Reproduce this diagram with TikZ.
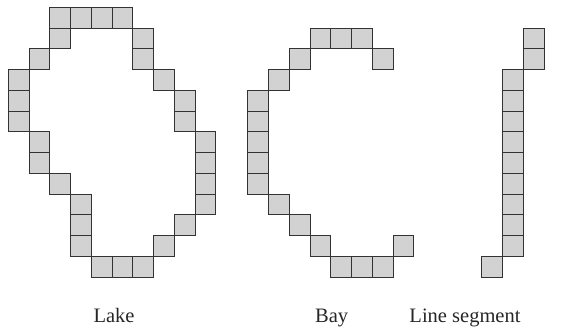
\documentclass[tikz,border=0pt]{standalone}
\usepackage{fontspec}
\setmainfont{Liberation Serif}
\begin{document}
\begin{tikzpicture}[x=1pt,y=-1pt,
  cell/.style={draw=black!80,fill=gray!35,line width=0.8pt,minimum size=20.75pt,inner sep=0pt,outer sep=0pt,anchor=north west},
  lbl/.style={anchor=base,inner sep=0pt,font=\fontsize{20.5}{24}\selectfont,text=black!85}]
\useasboundingbox (0,0) rectangle (571,331);
\def\s{20.75}
% Lake
\foreach \c/\r in {2/0,3/0,4/0,5/0, 2/1,6/1, 1/2,6/2, 0/3,7/3, 0/4,8/4, 0/5,8/5, 1/6,9/6, 1/7,9/7, 2/8,9/8, 3/9,9/9, 3/10,8/10, 3/11,7/11, 4/12,5/12,6/12}
  \node[cell] (lake-\c-\r) at ({8.3+\c*\s},{7.3+\r*\s}) {};
% Bay
\foreach \c/\r in {3/1,4/1,5/1, 2/2,6/2, 1/3, 0/4,0/5,0/6,0/7,0/8, 1/9, 2/10, 3/11,7/11, 4/12,5/12,6/12}
  \node[cell] (bay-\c-\r) at ({247.7+\c*\s},{7.3+\r*\s}) {};
% Line segment
\foreach \c/\r in {2/1,2/2, 1/3,1/4,1/5,1/6,1/7,1/8,1/9,1/10,1/11, 0/12}
  \node[cell] (seg-\c-\r) at ({481.7+\c*\s},{7.3+\r*\s}) {};
\node[lbl] (lakelabel) at (114,322.7) {Lake};
\node[lbl] (baylabel) at (331.7,322.7) {Bay};
\node[lbl] (seglabel) at (465,322.7) {Line segment};
\end{tikzpicture}
\end{document}
